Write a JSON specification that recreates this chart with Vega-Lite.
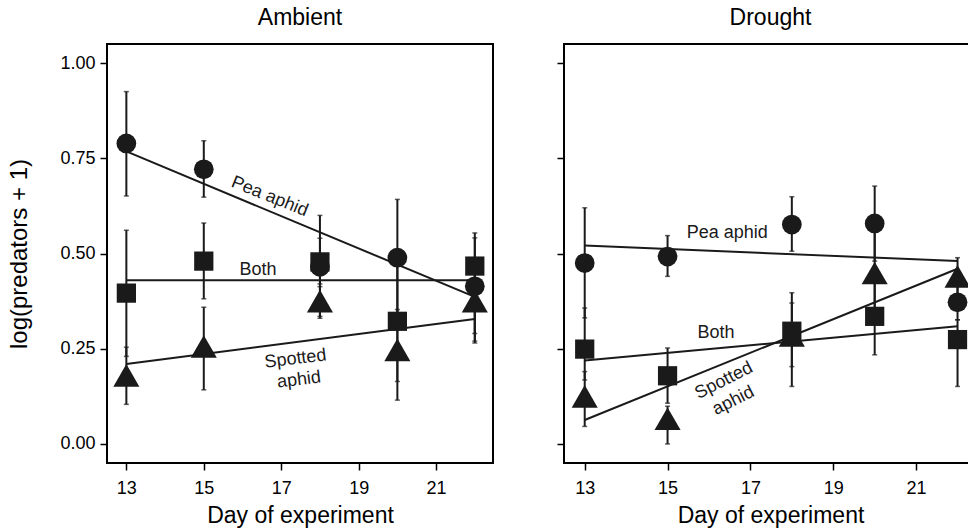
{
  "$schema": "https://vega.github.io/schema/vega-lite/v6.json",
  "background": "white",
  "padding": {"left": 6, "top": 6, "right": 0, "bottom": 0},
  "spacing": 61,
  "datasets": {
    "pts": [
      {"panel": "Ambient", "day": 13, "group": "Pea aphid", "y": 0.789, "lo": 0.651, "hi": 0.925},
      {"panel": "Ambient", "day": 15, "group": "Pea aphid", "y": 0.721, "lo": 0.648, "hi": 0.796},
      {"panel": "Ambient", "day": 18, "group": "Pea aphid", "y": 0.465, "lo": 0.33, "hi": 0.6},
      {"panel": "Ambient", "day": 20, "group": "Pea aphid", "y": 0.489, "lo": 0.34, "hi": 0.642},
      {"panel": "Ambient", "day": 22, "group": "Pea aphid", "y": 0.414, "lo": 0.27, "hi": 0.541},
      {"panel": "Ambient", "day": 13, "group": "Both", "y": 0.396, "lo": 0.23, "hi": 0.561},
      {"panel": "Ambient", "day": 15, "group": "Both", "y": 0.48, "lo": 0.381, "hi": 0.58},
      {"panel": "Ambient", "day": 18, "group": "Both", "y": 0.478, "lo": 0.42, "hi": 0.54},
      {"panel": "Ambient", "day": 20, "group": "Both", "y": 0.322, "lo": 0.164, "hi": 0.48},
      {"panel": "Ambient", "day": 22, "group": "Both", "y": 0.467, "lo": 0.29, "hi": 0.554},
      {"panel": "Ambient", "day": 13, "group": "Spotted aphid", "y": 0.18, "lo": 0.104, "hi": 0.254},
      {"panel": "Ambient", "day": 15, "group": "Spotted aphid", "y": 0.256, "lo": 0.142, "hi": 0.359},
      {"panel": "Ambient", "day": 18, "group": "Spotted aphid", "y": 0.375, "lo": 0.335, "hi": 0.413},
      {"panel": "Ambient", "day": 20, "group": "Spotted aphid", "y": 0.247, "lo": 0.115, "hi": 0.353},
      {"panel": "Ambient", "day": 22, "group": "Spotted aphid", "y": 0.375, "lo": 0.265, "hi": 0.48},
      {"panel": "Drought", "day": 13, "group": "Pea aphid", "y": 0.475, "lo": 0.331, "hi": 0.62},
      {"panel": "Drought", "day": 15, "group": "Pea aphid", "y": 0.492, "lo": 0.44, "hi": 0.547},
      {"panel": "Drought", "day": 18, "group": "Pea aphid", "y": 0.576, "lo": 0.506, "hi": 0.649},
      {"panel": "Drought", "day": 20, "group": "Pea aphid", "y": 0.579, "lo": 0.48, "hi": 0.677},
      {"panel": "Drought", "day": 22, "group": "Pea aphid", "y": 0.372, "lo": 0.326, "hi": 0.42},
      {"panel": "Drought", "day": 13, "group": "Both", "y": 0.249, "lo": 0.168, "hi": 0.357},
      {"panel": "Drought", "day": 15, "group": "Both", "y": 0.179, "lo": 0.107, "hi": 0.252},
      {"panel": "Drought", "day": 18, "group": "Both", "y": 0.296, "lo": 0.151, "hi": 0.397},
      {"panel": "Drought", "day": 20, "group": "Both", "y": 0.335, "lo": 0.234, "hi": 0.44},
      {"panel": "Drought", "day": 22, "group": "Both", "y": 0.274, "lo": 0.151, "hi": 0.326},
      {"panel": "Drought", "day": 13, "group": "Spotted aphid", "y": 0.125, "lo": 0.046, "hi": 0.19},
      {"panel": "Drought", "day": 15, "group": "Spotted aphid", "y": 0.066, "lo": 0.0, "hi": 0.099},
      {"panel": "Drought", "day": 18, "group": "Spotted aphid", "y": 0.285, "lo": 0.203, "hi": 0.37},
      {"panel": "Drought", "day": 20, "group": "Spotted aphid", "y": 0.449, "lo": 0.33, "hi": 0.56},
      {"panel": "Drought", "day": 22, "group": "Spotted aphid", "y": 0.44, "lo": 0.39, "hi": 0.489}
    ],
    "fits": [
      {"panel": "Ambient", "group": "Pea aphid", "day": 13, "y": 0.768},
      {"panel": "Ambient", "group": "Pea aphid", "day": 22, "y": 0.386},
      {"panel": "Ambient", "group": "Both", "day": 13, "y": 0.43},
      {"panel": "Ambient", "group": "Both", "day": 22, "y": 0.43},
      {"panel": "Ambient", "group": "Spotted aphid", "day": 13, "y": 0.21},
      {"panel": "Ambient", "group": "Spotted aphid", "day": 22, "y": 0.328},
      {"panel": "Drought", "group": "Pea aphid", "day": 13, "y": 0.521},
      {"panel": "Drought", "group": "Pea aphid", "day": 22, "y": 0.48},
      {"panel": "Drought", "group": "Both", "day": 13, "y": 0.219},
      {"panel": "Drought", "group": "Both", "day": 22, "y": 0.309},
      {"panel": "Drought", "group": "Spotted aphid", "day": 13, "y": 0.063},
      {"panel": "Drought", "group": "Spotted aphid", "day": 22, "y": 0.46}
    ],
    "labels": [
      {"panel": "Ambient", "kind": "pea", "day": 16.7, "y": 0.649, "text": "Pea aphid"},
      {"panel": "Ambient", "kind": "both", "day": 16.4, "y": 0.457, "text": "Both"},
      {"panel": "Ambient", "kind": "spotted", "day": 17.37, "y": 0.223, "text": "Spotted"},
      {"panel": "Ambient", "kind": "spotted", "day": 17.46, "y": 0.168, "text": "aphid"},
      {"panel": "Drought", "kind": "pea", "day": 16.44, "y": 0.555, "text": "Pea aphid"},
      {"panel": "Drought", "kind": "both", "day": 16.17, "y": 0.291, "text": "Both"},
      {"panel": "Drought", "kind": "spotted", "day": 16.36, "y": 0.166, "text": "Spotted"},
      {"panel": "Drought", "kind": "spotted", "day": 16.59, "y": 0.113, "text": "aphid"}
    ]
  },
  "config": {
    "font": "Liberation Sans",
    "view": {"stroke": "black", "strokeWidth": 2},
    "axis": {
      "domain": false, "grid": false,
      "tickColor": "black", "tickSize": 7, "tickWidth": 1.5,
      "labelColor": "black", "labelFont": "Liberation Sans", "labelFontSize": 18,
      "titleFont": "Liberation Sans", "titleFontSize": 23, "titleFontWeight": "normal", "titleColor": "black"
    },
    "title": {"font": "Liberation Sans", "fontSize": 23, "fontWeight": "normal", "color": "black", "offset": 14}
  },
  "hconcat": [
    {
      "title": "Ambient",
      "width": 386,
      "height": 419,
      "layer": [
        {
          "data": {"name": "pts"},
          "transform": [{"filter": "datum.panel === 'Ambient'"}],
          "mark": {"type": "rule", "color": "#1a1a1a", "strokeWidth": 2},
          "encoding": {
            "x": {"field": "day", "type": "quantitative", "scale": {"domain": [12.5, 22.47], "nice": false, "zero": false},
                  "axis": {"values": [13, 15, 17, 19, 21], "title": "Day of experiment", "labelPadding": 9, "titlePadding": 7}},
            "y": {"field": "lo", "type": "quantitative", "scale": {"domain": [-0.05, 1.05], "nice": false, "zero": false},
                  "axis": {"values": [0, 0.25, 0.5, 0.75, 1], "format": ".2f", "title": "log(predators + 1)", "titleFontSize": 24, "labelPadding": 5, "titlePadding": 28}},
            "y2": {"field": "hi"}
          }
        },
        {
          "data": {"name": "pts"},
          "transform": [{"filter": "datum.panel === 'Ambient'"}],
          "mark": {"type": "tick", "orient": "horizontal", "color": "#1a1a1a", "size": 5, "thickness": 1.5},
          "encoding": {"x": {"field": "day", "type": "quantitative"}, "y": {"field": "lo", "type": "quantitative"}}
        },
        {
          "data": {"name": "pts"},
          "transform": [{"filter": "datum.panel === 'Ambient'"}],
          "mark": {"type": "tick", "orient": "horizontal", "color": "#1a1a1a", "size": 5, "thickness": 1.5},
          "encoding": {"x": {"field": "day", "type": "quantitative"}, "y": {"field": "hi", "type": "quantitative"}}
        },
        {
          "data": {"name": "fits"},
          "transform": [{"filter": "datum.panel === 'Ambient'"}],
          "mark": {"type": "line", "color": "#1a1a1a", "strokeWidth": 2},
          "encoding": {"x": {"field": "day", "type": "quantitative"}, "y": {"field": "y", "type": "quantitative"}, "detail": {"field": "group"}}
        },
        {
          "data": {"name": "pts"},
          "transform": [{"filter": "datum.panel === 'Ambient' && datum.group === 'Pea aphid'"}],
          "mark": {"type": "point", "filled": true, "opacity": 1, "color": "#1a1a1a", "shape": "circle", "size": 390},
          "encoding": {"x": {"field": "day", "type": "quantitative"}, "y": {"field": "y", "type": "quantitative"}}
        },
        {
          "data": {"name": "pts"},
          "transform": [{"filter": "datum.panel === 'Ambient' && datum.group === 'Both'"}],
          "mark": {"type": "point", "filled": true, "opacity": 1, "color": "#1a1a1a", "shape": "square", "size": 370},
          "encoding": {"x": {"field": "day", "type": "quantitative"}, "y": {"field": "y", "type": "quantitative"}}
        },
        {
          "data": {"name": "pts"},
          "transform": [{"filter": "datum.panel === 'Ambient' && datum.group === 'Spotted aphid'"}],
          "mark": {"type": "point", "filled": true, "opacity": 1, "color": "#1a1a1a", "shape": "triangle-up", "size": 680},
          "encoding": {"x": {"field": "day", "type": "quantitative"}, "y": {"field": "y", "type": "quantitative"}}
        },
        {
          "data": {"name": "labels"},
          "transform": [{"filter": "datum.panel === 'Ambient' && datum.kind === 'pea'"}],
          "mark": {"type": "text", "fontSize": 18, "angle": 22, "align": "center", "baseline": "middle", "color": "#1a1a1a"},
          "encoding": {"x": {"field": "day", "type": "quantitative"}, "y": {"field": "y", "type": "quantitative"}, "text": {"field": "text"}}
        },
        {
          "data": {"name": "labels"},
          "transform": [{"filter": "datum.panel === 'Ambient' && datum.kind === 'both'"}],
          "mark": {"type": "text", "fontSize": 18, "angle": 0, "align": "center", "baseline": "middle", "color": "#1a1a1a"},
          "encoding": {"x": {"field": "day", "type": "quantitative"}, "y": {"field": "y", "type": "quantitative"}, "text": {"field": "text"}}
        },
        {
          "data": {"name": "labels"},
          "transform": [{"filter": "datum.panel === 'Ambient' && datum.kind === 'spotted'"}],
          "mark": {"type": "text", "fontSize": 18, "angle": -7, "align": "center", "baseline": "middle", "color": "#1a1a1a"},
          "encoding": {"x": {"field": "day", "type": "quantitative"}, "y": {"field": "y", "type": "quantitative"}, "text": {"field": "text"}}
        }
      ]
    },
    {
      "title": "Drought",
      "width": 413,
      "height": 419,
      "layer": [
        {
          "data": {"name": "pts"},
          "transform": [{"filter": "datum.panel === 'Drought'"}],
          "mark": {"type": "rule", "color": "#1a1a1a", "strokeWidth": 2},
          "encoding": {
            "x": {"field": "day", "type": "quantitative", "scale": {"domain": [12.5, 22.47], "nice": false, "zero": false},
                  "axis": {"values": [13, 15, 17, 19, 21], "title": "Day of experiment", "labelPadding": 9, "titlePadding": 7}},
            "y": {"field": "lo", "type": "quantitative", "scale": {"domain": [-0.05, 1.05], "nice": false, "zero": false},
                  "axis": {"values": [0, 0.25, 0.5, 0.75, 1], "labels": false, "title": null}},
            "y2": {"field": "hi"}
          }
        },
        {
          "data": {"name": "pts"},
          "transform": [{"filter": "datum.panel === 'Drought'"}],
          "mark": {"type": "tick", "orient": "horizontal", "color": "#1a1a1a", "size": 5, "thickness": 1.5},
          "encoding": {"x": {"field": "day", "type": "quantitative"}, "y": {"field": "lo", "type": "quantitative"}}
        },
        {
          "data": {"name": "pts"},
          "transform": [{"filter": "datum.panel === 'Drought'"}],
          "mark": {"type": "tick", "orient": "horizontal", "color": "#1a1a1a", "size": 5, "thickness": 1.5},
          "encoding": {"x": {"field": "day", "type": "quantitative"}, "y": {"field": "hi", "type": "quantitative"}}
        },
        {
          "data": {"name": "fits"},
          "transform": [{"filter": "datum.panel === 'Drought'"}],
          "mark": {"type": "line", "color": "#1a1a1a", "strokeWidth": 2},
          "encoding": {"x": {"field": "day", "type": "quantitative"}, "y": {"field": "y", "type": "quantitative"}, "detail": {"field": "group"}}
        },
        {
          "data": {"name": "pts"},
          "transform": [{"filter": "datum.panel === 'Drought' && datum.group === 'Pea aphid'"}],
          "mark": {"type": "point", "filled": true, "opacity": 1, "color": "#1a1a1a", "shape": "circle", "size": 390},
          "encoding": {"x": {"field": "day", "type": "quantitative"}, "y": {"field": "y", "type": "quantitative"}}
        },
        {
          "data": {"name": "pts"},
          "transform": [{"filter": "datum.panel === 'Drought' && datum.group === 'Both'"}],
          "mark": {"type": "point", "filled": true, "opacity": 1, "color": "#1a1a1a", "shape": "square", "size": 370},
          "encoding": {"x": {"field": "day", "type": "quantitative"}, "y": {"field": "y", "type": "quantitative"}}
        },
        {
          "data": {"name": "pts"},
          "transform": [{"filter": "datum.panel === 'Drought' && datum.group === 'Spotted aphid'"}],
          "mark": {"type": "point", "filled": true, "opacity": 1, "color": "#1a1a1a", "shape": "triangle-up", "size": 680},
          "encoding": {"x": {"field": "day", "type": "quantitative"}, "y": {"field": "y", "type": "quantitative"}}
        },
        {
          "data": {"name": "labels"},
          "transform": [{"filter": "datum.panel === 'Drought' && datum.kind !== 'spotted'"}],
          "mark": {"type": "text", "fontSize": 18, "angle": 0, "align": "center", "baseline": "middle", "color": "#1a1a1a"},
          "encoding": {"x": {"field": "day", "type": "quantitative"}, "y": {"field": "y", "type": "quantitative"}, "text": {"field": "text"}}
        },
        {
          "data": {"name": "labels"},
          "transform": [{"filter": "datum.panel === 'Drought' && datum.kind === 'spotted'"}],
          "mark": {"type": "text", "fontSize": 18, "angle": -27, "align": "center", "baseline": "middle", "color": "#1a1a1a"},
          "encoding": {"x": {"field": "day", "type": "quantitative"}, "y": {"field": "y", "type": "quantitative"}, "text": {"field": "text"}}
        }
      ]
    }
  ]
}
